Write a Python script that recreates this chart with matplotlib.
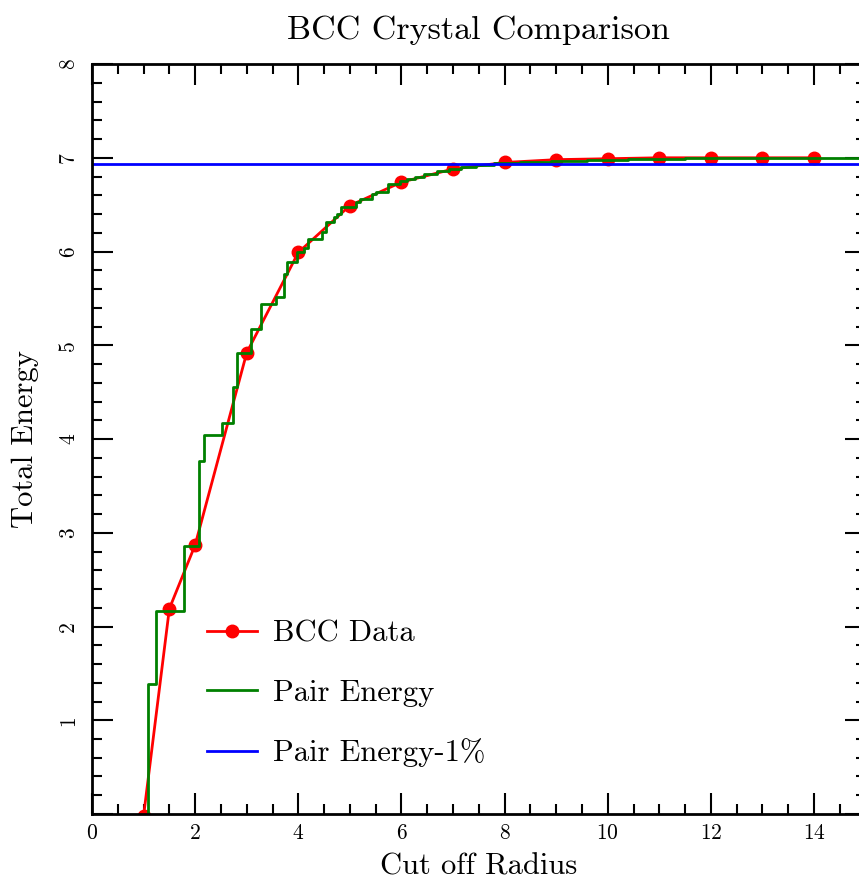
import matplotlib
matplotlib.use("Agg")
import matplotlib.pyplot as plt
from matplotlib.ticker import MultipleLocator

plt.rcParams['font.family'] = ['cmr10', 'DejaVu Serif']
plt.rcParams['mathtext.fontset'] = 'cm'
plt.rcParams['axes.unicode_minus'] = False
plt.rcParams['axes.formatter.use_mathtext'] = True

# BCC data points (cut off radius, total energy)
bcc_r = [1.0, 1.5, 2, 3, 4, 5, 6, 7, 8, 9, 10, 11, 12, 13, 14]
bcc_e = [-0.02, 2.19, 2.87, 4.92, 5.99, 6.49, 6.74, 6.88, 6.95, 6.98, 6.99, 7.0, 7.0, 7.0, 7.0]

# pair energy, step function of cut off radius (value after each step)
step_r = [0.5, 1.09, 1.25, 1.79, 2.08, 2.17, 2.52, 2.74, 2.81, 3.08, 3.27, 3.57,
          3.73, 3.78, 3.97, 4.12, 4.18, 4.46, 4.54, 4.69, 4.75, 4.83, 5.12, 5.20,
          5.43, 5.51, 5.73, 5.98, 6.10, 6.27, 6.43, 6.69, 6.92, 7.15, 7.45, 7.80,
          8.30, 8.90, 9.60, 10.4, 11.5, 15.0]
step_e = [-1.0, 1.39, 2.17, 2.86, 3.77, 4.04, 4.17, 4.56, 4.92, 5.17, 5.44, 5.51,
          5.76, 5.89, 5.99, 6.04, 6.13, 6.21, 6.31, 6.37, 6.40, 6.48, 6.53, 6.56,
          6.61, 6.64, 6.72, 6.75, 6.77, 6.80, 6.83, 6.86, 6.88, 6.90, 6.92, 6.94,
          6.96, 6.97, 6.98, 6.99, 7.00, 7.00]

pair_energy_1pct = 6.93

fig = plt.figure(figsize=(8.59, 8.82), dpi=100)
ax = fig.add_axes([0.1071, 0.0771, 0.9006, 0.8503])

ax.plot(bcc_r, bcc_e, color='red', lw=2, marker='o', ms=9, label='BCC Data')
ax.step(step_r, step_e, where='post', color='green', lw=2, label='Pair Energy')
ax.axhline(pair_energy_1pct, color='blue', lw=2, label='Pair Energy-1%')

ax.set_xlim(0, 15)
ax.set_ylim(0, 8)
ax.set_xticks(range(0, 15, 2))
ax.set_yticks(range(0, 9))
ax.set_yticklabels([''] + [str(i) for i in range(1, 9)])
ax.xaxis.set_minor_locator(MultipleLocator(0.5))
ax.yaxis.set_minor_locator(MultipleLocator(0.2))

ax.tick_params(which='both', direction='in', top=True, right=True, width=1.5)
ax.tick_params(which='major', length=15)
ax.tick_params(which='minor', length=7.5)
ax.tick_params(axis='x', labelsize=15.5, pad=7)
ax.tick_params(axis='y', labelsize=15.5, pad=10, labelrotation=90)
for lab in ax.get_yticklabels():
    lab.set_va('center')

for s in ax.spines.values():
    s.set_linewidth(2)

ax.set_title('BCC Crystal Comparison', fontsize=24.5, pad=18)
ax.set_xlabel('Cut off Radius', fontsize=22, labelpad=7)
ax.set_ylabel('Total Energy', fontsize=22, labelpad=14)

ax.legend(loc='upper left', bbox_to_anchor=(0.1487, 0.258), frameon=False,
          fontsize=22, borderpad=0, borderaxespad=0, handlelength=1.65,
          handletextpad=0.5, labelspacing=1.03)

fig.savefig('out.png', dpi=100)
